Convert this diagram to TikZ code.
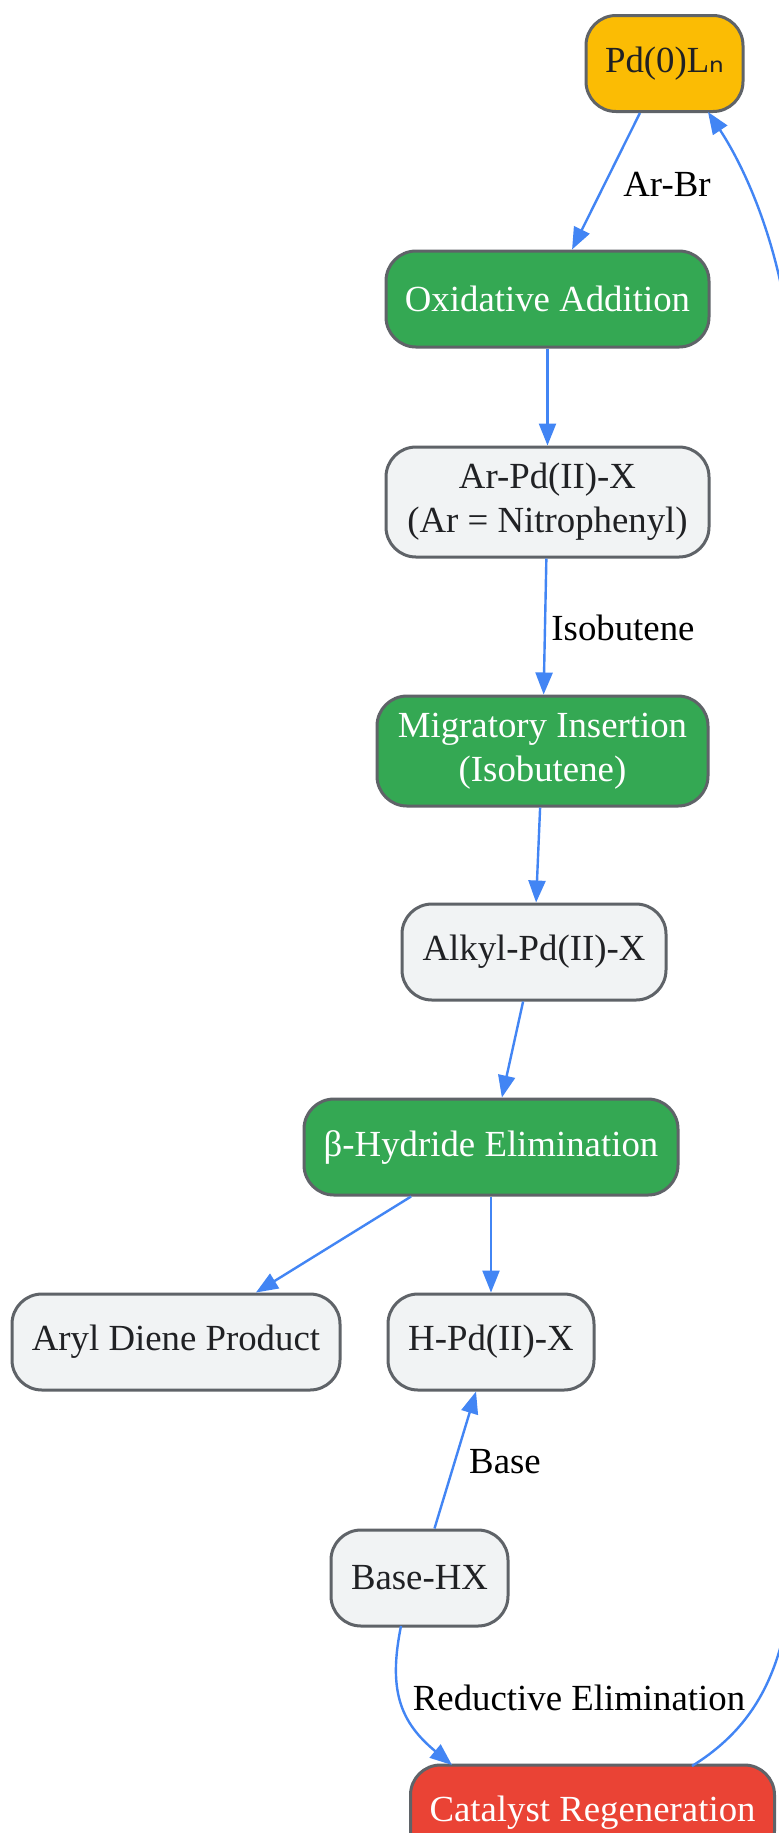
\documentclass[tikz,border=0pt]{standalone}
\usepackage{fontspec}
\setmainfont{Liberation Serif}
\newfontfamily\dejavu{DejaVu Sans}
\usetikzlibrary{arrows.meta}
\definecolor{pdyellow}{HTML}{FBBC04}
\definecolor{stepgreen}{HTML}{34A853}
\definecolor{stepred}{HTML}{EA4335}
\definecolor{interfill}{HTML}{F1F3F4}
\definecolor{borderc}{HTML}{5F6368}
\definecolor{arrowc}{HTML}{4285F4}
\definecolor{textc}{HTML}{202124}
\tikzset{
  box/.style={draw=borderc, line width=1.5pt, rounded corners=15pt, inner sep=0pt,
    minimum height=48pt, align=center, font=\fontsize{18.4}{22}\selectfont, text=textc},
  tall/.style={minimum height=55pt},
  inter/.style={box, fill=interfill},
  greenbox/.style={box, fill=stepgreen, text=white},
  redbox/.style={box, fill=stepred, text=white},
  yellowbox/.style={box, fill=pdyellow},
  conn/.style={draw=arrowc, line width=1.2pt, -{Triangle[length=11pt,width=8.5pt]}},
  lbl/.style={font=\fontsize{18.4}{22}\selectfont, text=black, inner sep=0pt}
}
\begin{document}
\begin{tikzpicture}[x=0.5pt,y=-0.5pt]
\useasboundingbox (0,0) rectangle (779,1833);
\clip (0,0) rectangle (779,1833);
\fill[white] (0,0) rectangle (779,1833);
\node[yellowbox, minimum width=78.5pt] (pd) at (664.5,63.5) {Pd(0)L{\dejavu ₙ}};
\node[greenbox, minimum width=161.5pt] (ox) at (547.5,299) {Oxidative Addition};
\node[inter, tall, minimum width=161.5pt] (arpd) at (547.5,502) {Ar-Pd(II)-X\\(Ar = Nitrophenyl)};
\node[greenbox, tall, minimum width=165.5pt] (mig) at (542.5,751) {Migratory Insertion\\(Isobutene)};
\node[inter, minimum width=132pt] (alk) at (534,952) {Alkyl-Pd(II)-X};
\node[greenbox, minimum width=187pt] (beta) at (491,1147) {β-Hydride Elimination};
\node[inter, minimum width=164pt] (aryl) at (176,1342) {Aryl Diene Product};
\node[inter, minimum width=103pt] (hpd) at (491,1342) {H-Pd(II)-X};
\node[inter, minimum width=88.5pt] (bhx) at (419.5,1578) {Base-HX};
\node[redbox, minimum width=182pt] (cat) at (592.5,1813) {Catalyst Regeneration};

\coordinate (bs) at (401,1626);
\coordinate (ct) at (452,1765);
\coordinate (cs) at (692,1766);
\coordinate (pdin) at (708,112);

\draw[conn] (pd) -- (ox);
\draw[conn] (ox) -- (arpd);
\draw[conn] (arpd) -- (mig);
\draw[conn] (mig) -- (alk);
\draw[conn] (alk) -- (beta);
\draw[conn] (beta) -- (aryl);
\draw[conn] (beta) -- (hpd);
\draw[conn] (bhx) -- (hpd);
\draw[conn] (bs) .. controls (388,1690) and (400,1722) .. (ct);
\draw[conn] (cs) .. controls (750,1730) and (779,1680) .. (790,1600) -- (790,340) .. controls (778,235) and (740,160) .. (pdin);

\node[lbl] (l1) at (667,184) {Ar-Br};
\node[lbl] (l2) at (623,628) {Isobutene};
\node[lbl] (l3) at (505,1462) {Base};
\node[lbl] (l4) at (579,1698) {Reductive Elimination};
\end{tikzpicture}
\end{document}
